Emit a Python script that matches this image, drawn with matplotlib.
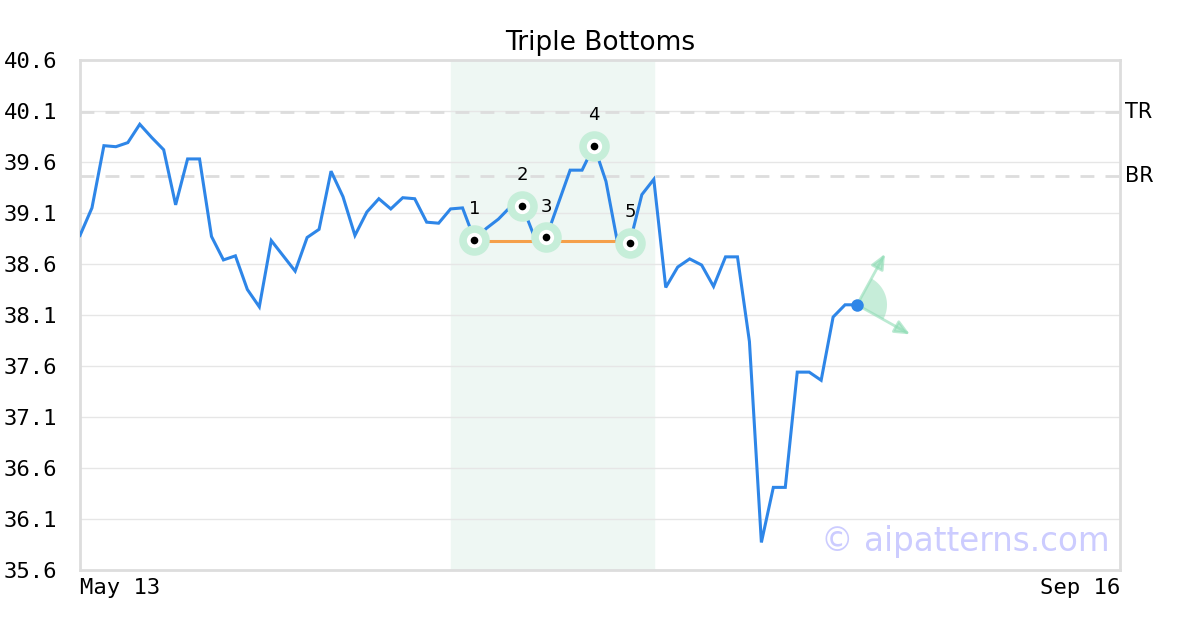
import numpy as np
import matplotlib
matplotlib.use("Agg")
import matplotlib.pyplot as plt
from matplotlib.patches import Polygon

# ---- data ----
prices = [38.88, 39.15, 39.76, 39.75, 39.79, 39.97, 39.84, 39.72, 39.18, 39.63,
          39.63, 38.87, 38.64, 38.68, 38.35, 38.18, 38.83, 38.68, 38.53, 38.86,
          38.94, 39.51, 39.26, 38.88, 39.11, 39.24, 39.14, 39.25, 39.24, 39.01,
          39.00, 39.14, 39.15, 38.84, 38.95, 39.04, 39.16, 39.17, 38.87, 38.86,
          39.19, 39.52, 39.52, 39.76, 39.41, 38.79, 38.81, 39.28, 39.43, 38.37,
          38.57, 38.65, 38.59, 38.38, 38.67, 38.67, 37.84, 35.87, 36.41, 36.41,
          37.54, 37.54, 37.46, 38.08, 38.20, 38.20]
n_total = 88  # trading-day slots on the axis
x_labels = ["May 13", "Sep 16"]
y_ticks = [35.6, 36.1, 36.6, 37.1, 37.6, 38.1, 38.6, 39.1, 39.6, 40.1, 40.6]
pivot_idx = [33, 37, 39, 43, 46]
pivot_labels = ["1", "2", "3", "4", "5"]
shade_range = (31, 48)
neckline_y = 38.83
tr_level = 40.09
br_level = 39.46
arrow_up_end = (67.34, 38.70)
arrow_down_end = (69.43, 37.91)

W, H, DPI = 1200, 630, 100
fig = plt.figure(figsize=(W / DPI, H / DPI), dpi=DPI)
L, R, T, B = 80, 1120, 60, 570
ax = fig.add_axes([L / W, 1 - B / H, (R - L) / W, (B - T) / H])

xs = np.arange(len(prices))
ax.set_xlim(0, n_total - 1)
ax.set_ylim(y_ticks[0], y_ticks[-1])

# grid
ax.set_yticks(y_ticks)
ax.set_yticklabels([f"{v:.1f}" for v in y_ticks], family="DejaVu Sans Mono", fontsize=16)
ax.grid(axis="y", color="#e6e6e6", linewidth=1)
ax.set_axisbelow(True)
ax.set_xticks([0, n_total - 1])
ax.set_xticklabels(x_labels, family="DejaVu Sans Mono", fontsize=16)
xt = ax.get_xticklabels()
xt[0].set_ha("left")
xt[1].set_ha("right")
ax.tick_params(axis="y", length=0, pad=16.5)
ax.tick_params(axis="x", length=0, pad=6)
for s in ax.spines.values():
    s.set_color("#dddddd")
    s.set_linewidth(2)

# shaded pattern region
ax.axvspan(shade_range[0], shade_range[1], color="#eef7f3", zorder=0)

# resistance lines
for lvl, lab in [(tr_level, "TR"), (br_level, "BR")]:
    ax.axhline(lvl, color="#dddddd", linewidth=2, linestyle=(0, (5, 4)), zorder=1)
    ax.text(1.005, lvl, lab, transform=ax.get_yaxis_transform(), fontsize=15,
            va="center", ha="left", family="DejaVu Sans")

# price line
ax.plot(xs, prices, color="#2e86e8", linewidth=2.2, zorder=3, solid_joinstyle="miter")

# neckline
ax.plot([pivot_idx[0], pivot_idx[-1]], [neckline_y, neckline_y], color="#f5a04a",
        linewidth=2.2, zorder=2.5)

# pivots
for i, lab in zip(pivot_idx, pivot_labels):
    y = prices[i]
    ax.plot(i, y, "o", markersize=22, color="#c6eed9", zorder=4, markeredgewidth=0)
    ax.plot(i, y, "o", markersize=11, color="white", zorder=5, markeredgewidth=0)
    ax.plot(i, y, "o", markersize=5.5, color="black", zorder=6, markeredgewidth=0)
    ax.annotate(lab, (i, y), xytext=(0, 22), textcoords="offset points",
                ha="center", va="center", fontsize=13, zorder=7)

# last point and projection arrows
lx, ly = len(prices) - 1, prices[-1]
px_per_x = (R - L) / (n_total - 1)
px_per_y = (B - T) / (y_ticks[-1] - y_ticks[0])
a1 = np.degrees(np.arctan2((arrow_up_end[1] - ly) * px_per_y, (arrow_up_end[0] - lx) * px_per_x))
a2 = np.degrees(np.arctan2((arrow_down_end[1] - ly) * px_per_y, (arrow_down_end[0] - lx) * px_per_x))
angs = np.radians(np.linspace(a2, a1, 40))
rad = 30
poly = [(lx, ly)] + [(lx + rad * np.cos(a) / px_per_x, ly + rad * np.sin(a) / px_per_y) for a in angs]
ax.add_patch(Polygon(poly, closed=True, facecolor="#8fdcb5", alpha=0.5, edgecolor="none", zorder=3.5))
for end in (arrow_up_end, arrow_down_end):
    ax.annotate("", xy=end, xytext=(lx, ly),
                arrowprops=dict(arrowstyle="-|>,head_length=0.9,head_width=0.4",
                                color="#8fdcb5", alpha=0.6, lw=2, shrinkA=0, shrinkB=0),
                zorder=3.6)
ax.plot(lx, ly, "o", markersize=9, color="#2e86e8", zorder=6, markeredgewidth=0)

# title
ax.set_title("Triple Bottoms", fontsize=19, pad=7)

# watermark
ax.text(0.99, 0.055, "© aipatterns.com", transform=ax.transAxes, ha="right", va="center",
        fontsize=23.5, color="#ccccff", zorder=1)

fig.savefig("out.png", dpi=DPI)
